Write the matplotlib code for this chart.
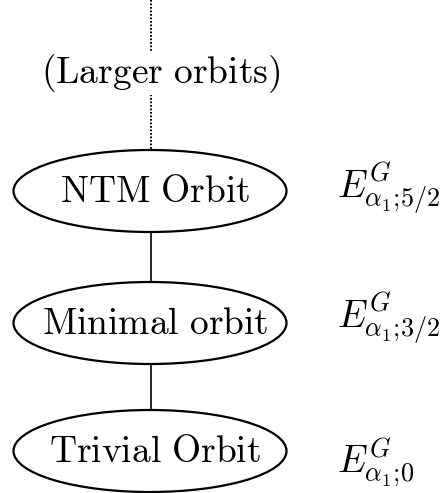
import matplotlib
matplotlib.use("Agg")
import matplotlib.pyplot as plt
from matplotlib.patches import Ellipse

plt.rcParams['mathtext.fontset'] = 'cm'

# Data: orbit hierarchy (bottom to top) and their energy labels
orbit_names = ["Trivial Orbit", "Minimal orbit", "NTM Orbit"]
energy_labels = [r"$E^G_{\alpha_1;\!0}$", r"$E^G_{\alpha_1;\!3/2}$", r"$E^G_{\alpha_1;\!5/2}$"]
top_label = "(Larger orbits)"

# Layout (pixel coordinates)
W, H = 443, 493
centers_y = [451, 323, 191]
cx = 150
ell_w, ell_h = 273, 82
energy_x = 337
energy_base = [472, 327, 197]
text_fs = 27

fig = plt.figure(figsize=(W / 100, H / 100), dpi=100)
ax = fig.add_axes([0, 0, 1, 1])
ax.set_xlim(0, W)
ax.set_ylim(H, 0)
ax.axis('off')

def mt(s):
    return r"$\mathrm{" + s.replace(" ", r"\ ") + "}$"

# dotted line to larger orbits
ax.plot([151, 151], [0, centers_y[-1] - ell_h / 2], color='black', lw=1.4,
        linestyle=(0, (0.9, 0.9)), zorder=1)
ax.text(161, 83, mt(top_label), fontsize=text_fs, ha='center', va='baseline',
        zorder=3, bbox=dict(facecolor='white', edgecolor='none', pad=0))

for i, (name, cy) in enumerate(zip(orbit_names, centers_y)):
    ax.add_patch(Ellipse((cx, cy), ell_w, ell_h, facecolor='white',
                         edgecolor='black', lw=1.6, zorder=2))
    ax.text(cx + 5, cy + 11, mt(name), fontsize=text_fs, ha='center',
            va='baseline', zorder=3)
    ax.text(energy_x, energy_base[i], energy_labels[i], fontsize=text_fs,
            ha='left', va='baseline', zorder=3)
    if i < len(orbit_names) - 1:
        ax.plot([151, 151], [cy - ell_h / 2, centers_y[i + 1] + ell_h / 2],
                color='black', lw=1.2, zorder=1)

fig.savefig("out.png", dpi=100, facecolor='white')
